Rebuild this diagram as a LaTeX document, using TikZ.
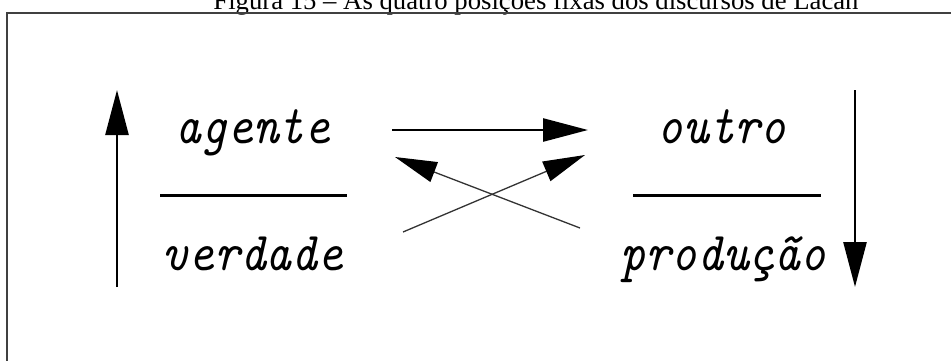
\documentclass[tikz,border=0pt]{standalone}
\usepackage{fontspec}
\setmainfont{Liberation Serif}
\usetikzlibrary{arrows.meta}
\tikzset{
  word/.style={font=\ttfamily\itshape\fontsize{49}{55}\selectfont, anchor=base, inner sep=0pt},
  fracbar/.style={line width=3pt, black},
  bigarrow/.style={line width=2.6pt, -{Triangle[length=45pt,width=23pt]}},
  crossarrow/.style={line width=1.3pt, black!80, -{Triangle[length=42pt,width=21pt,color=black,fill=black]}},
}
\newcommand{\tallword}[1]{\scalebox{1}[1.12]{#1}}
\begin{document}
\begin{tikzpicture}[x=1pt,y=-1pt]
\useasboundingbox (0,0) rectangle (951,360);
\clip (0,0) rectangle (951,360);
\fill[white] (0,0) rectangle (951,360);
% caption
\node[font=\fontsize{26.7}{30}\selectfont, anchor=base, inner sep=0pt] (cap) at (536,9) {Figura 15 – As quatro posições fixas dos discursos de Lacan};
% frame
\draw[line width=2pt, black!75] (7,13) rectangle (1000,420);
% words
\node[word] (ag) at (253,143) {\tallword{agente}};
\node[word] (ve) at (253,270) {\tallword{verdade}};
\node[word] (ou) at (722,143) {\tallword{outro}};
\node[word] (pr) at (723,270) {\tallword{produção}};
% fraction bars
\coordinate (l1) at (160,195); \coordinate (l2) at (347,195);
\coordinate (r1) at (633,195); \coordinate (r2) at (821,195);
\draw[fracbar] (l1) -- (l2);
\draw[fracbar] (r1) -- (r2);
% vertical arrows
\coordinate (ua) at (117,287); \coordinate (ub) at (117,90);
\coordinate (da) at (855,90); \coordinate (db) at (855,287);
\draw[bigarrow] (ua) -- (ub);
\draw[bigarrow] (da) -- (db);
% horizontal arrow
\coordinate (ha) at (392,130); \coordinate (hb) at (588,130);
\draw[bigarrow] (ha) -- (hb);
% crossing arrows
\coordinate (c1a) at (403,232); \coordinate (c1b) at (585,155);
\coordinate (c2a) at (580,228); \coordinate (c2b) at (395,157);
\draw[crossarrow] (c1a) -- (c1b);
\draw[crossarrow] (c2a) -- (c2b);
\end{tikzpicture}
\end{document}
